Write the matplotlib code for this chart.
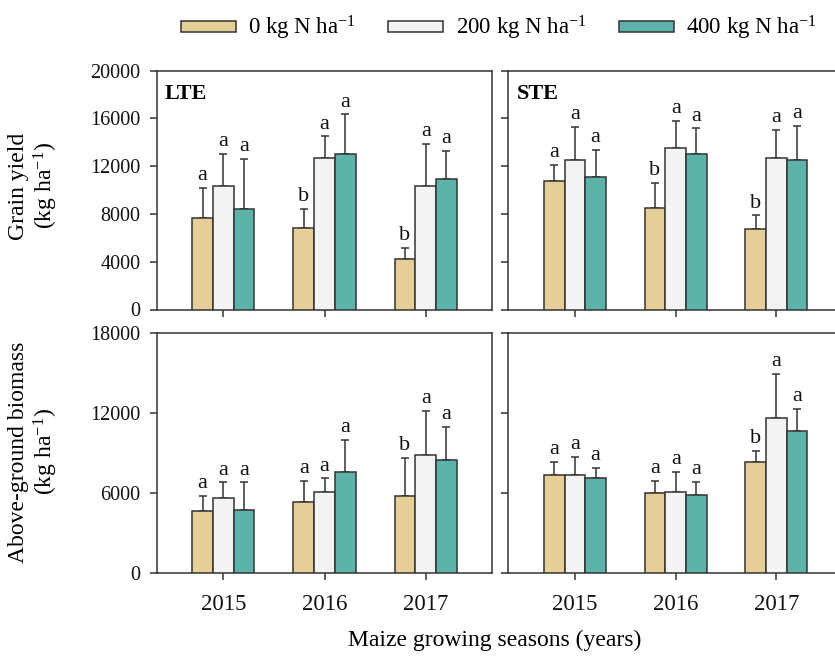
import matplotlib
matplotlib.use("Agg")
import matplotlib.pyplot as plt
from matplotlib.patches import Patch
import numpy as np

plt.rcParams['font.family'] = ['Liberation Serif', 'DejaVu Serif']
plt.rcParams['mathtext.fontset'] = 'custom'
plt.rcParams['mathtext.rm'] = 'Liberation Serif'

# ---- data -------------------------------------------------------------
years = ["2015", "2016", "2017"]
n_rates = [r"0 kg N ha$\mathregular{^{-1}}$",
           r"200 kg N ha$\mathregular{^{-1}}$",
           r"400 kg N ha$\mathregular{^{-1}}$"]

# Grain yield, long-term experiment (rows: 0, 200, 400 kg N)
gy_lte_mean = [[7670, 6780, 4210], [10320, 12660, 10320], [8390, 13000, 10880]]
gy_lte_err = [[2480, 1610, 950], [2680, 1820, 3540], [4190, 3320, 2370]]
gy_lte_sig = [["a", "b", "b"], ["a", "a", "a"], ["a", "a", "a"]]

# Grain yield, short-term experiment
gy_ste_mean = [[10750, 8480, 6750], [12490, 13550, 12680], [11090, 13020, 12550]]
gy_ste_err = [[1380, 2130, 1120], [2770, 2240, 2350], [2260, 2130, 2820]]
gy_ste_sig = [["a", "b", "b"], ["a", "a", "a"], ["a", "a", "a"]]

# Above-ground biomass, long-term experiment
bm_lte_mean = [[4680, 5360, 5760], [5640, 6040, 8850], [4750, 7570, 8450]]
bm_lte_err = [[1080, 1530, 2900], [1150, 1050, 3280], [2040, 2420, 2520]]
bm_lte_sig = [["a", "a", "b"], ["a", "a", "a"], ["a", "a", "a"]]

# Above-ground biomass, short-term experiment
bm_ste_mean = [[7330, 5980, 8350], [7330, 6060, 11620], [7130, 5880, 10670]]
bm_ste_err = [[1020, 920, 780], [1350, 1550, 3290], [750, 950, 1620]]
bm_ste_sig = [["a", "a", "b"], ["a", "a", "a"], ["a", "a", "a"]]

gy_ticks = [0, 4000, 8000, 12000, 16000, 20000]
bm_ticks = [0, 6000, 12000, 18000]

# ---- style ------------------------------------------------------------
colors = ["#E6CF97", "#F3F3F3", "#5BB3AA"]
edge = "#333333"
bar_w = 0.205
W, H = 835, 659

fig = plt.figure(figsize=(W / 100, H / 100), dpi=100)


def rect(x0, x1, ytop, ybot):
    return [x0 / W, 1 - ybot / H, (x1 - x0) / W, (ybot - ytop) / H]


def panel(r, xlim, means, errs, sigs, ticks, ylabels, xlabels):
    ax = fig.add_axes(r)
    x = np.arange(len(years))
    for i in range(3):
        pos = x + (i - 1) * bar_w
        m = np.array(means[i])
        e = np.array(errs[i])
        ax.bar(pos, m, bar_w, color=colors[i], edgecolor=edge,
               linewidth=1.1, zorder=3)
        ax.errorbar(pos, m, yerr=[np.zeros_like(e), e], fmt='none',
                    ecolor=edge, elinewidth=1.1, capsize=3.2,
                    capthick=1.1, zorder=2)
        for p, mm, ee, s in zip(pos, m, e, sigs[i]):
            ax.annotate(s, (p, mm + ee), xytext=(0, 2),
                        textcoords='offset points', ha='center',
                        va='bottom', fontsize=16, color='#111111')
    ax.set_xlim(*xlim)
    ax.set_ylim(ticks[0], ticks[-1])
    ax.set_yticks(ticks)
    ax.set_xticks(x)
    if xlabels:
        ax.set_xticklabels(years, fontsize=16.5)
    else:
        ax.set_xticklabels([])
    if ylabels:
        ax.set_yticklabels([str(t) for t in ticks], fontsize=14.5)
    else:
        ax.set_yticklabels([])
    ax.tick_params(axis='both', direction='out', length=5, width=1.1,
                   color=edge, labelcolor='#111111')
    ax.tick_params(axis='x', pad=10)
    ax.tick_params(axis='y', pad=7)
    for sp in ax.spines.values():
        sp.set_color(edge)
        sp.set_linewidth(1.1)
    return ax


left_xlim = (-0.655, 2.65)
# the right-hand panels run past the figure's right edge
right_xlim = (-0.665, 2.83)

ax1 = panel(rect(157, 491.5, 70.5, 309.5), left_xlim, gy_lte_mean,
            gy_lte_err, gy_lte_sig, gy_ticks, True, False)
ax2 = panel(rect(508, 860, 70.5, 309.5), right_xlim, gy_ste_mean,
            gy_ste_err, gy_ste_sig, gy_ticks, False, False)
ax3 = panel(rect(157, 491.5, 333, 573), left_xlim, bm_lte_mean,
            bm_lte_err, bm_lte_sig, bm_ticks, True, True)
ax4 = panel(rect(508, 860, 333, 573), right_xlim, bm_ste_mean,
            bm_ste_err, bm_ste_sig, bm_ticks, False, True)

fig.text(165 / W, 1 - 94 / H, "LTE", fontsize=16, fontweight='bold',
         va='center', ha='left')
fig.text(517 / W, 1 - 94 / H, "STE", fontsize=16, fontweight='bold',
         va='center', ha='left')

fig.text(34 / W, 1 - 186 / H, "Grain yield\n(kg ha$\\mathregular{^{-1}}$)",
         rotation=90, ha='center', va='center', fontsize=17,
         multialignment='center', linespacing=1.1)
fig.text(34 / W, 1 - 452 / H,
         "Above-ground biomass\n(kg ha$\\mathregular{^{-1}}$)",
         rotation=90, ha='center', va='center', fontsize=17,
         multialignment='center', linespacing=1.1)

fig.text(495 / W, 1 - 640 / H, "Maize growing seasons (years)",
         ha='center', va='center', fontsize=17)

handles = [Patch(facecolor=c, edgecolor=edge, linewidth=1.1) for c in colors]
fig.legend(handles, n_rates, loc='center', ncol=3, frameon=False,
           bbox_to_anchor=(499 / W, 1 - 28 / H), fontsize=16.5,
           handlelength=2.4, handleheight=0.32, handletextpad=0.55,
           columnspacing=1.4, borderpad=0)

fig.savefig("out.png", dpi=100)
